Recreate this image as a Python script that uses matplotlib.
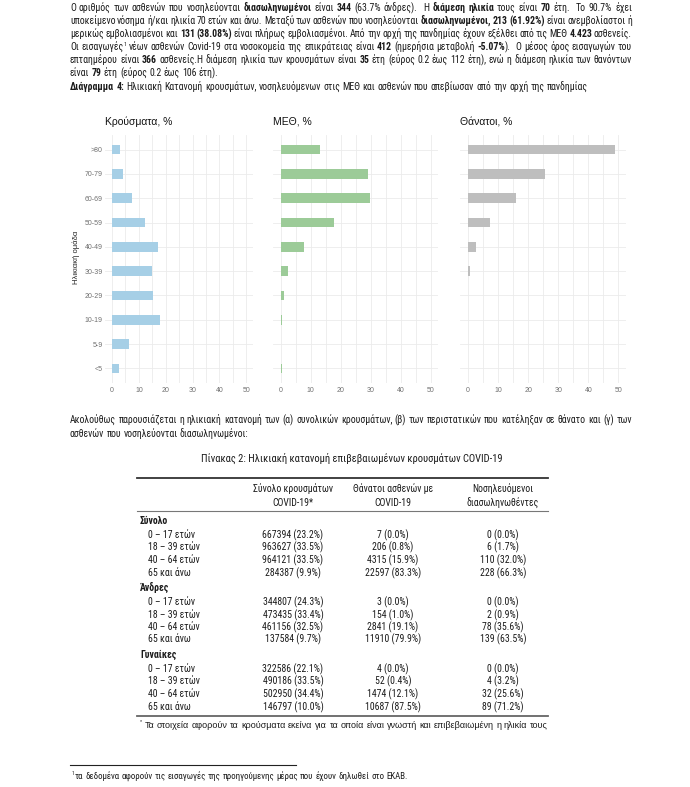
import math
import matplotlib
matplotlib.use('Agg')
import matplotlib.pyplot as plt
from matplotlib import font_manager as fm
from matplotlib.lines import Line2D
from matplotlib.ticker import MultipleLocator

# Chart data: age distribution (%)
age_groups = ['<5', '5-9', '10-19', '20-29', '30-39', '40-49', '50-59', '60-69', '70-79', '>80']
cases_pct_age = [2.7, 6.5, 18.0, 15.4, 15.0, 17.2, 12.4, 7.6, 4.2, 3.1]
icu_pct_age = [0.3, 0.1, 0.3, 1.1, 2.4, 7.8, 17.7, 29.7, 29.0, 13.1]
deaths_pct_age = [0.2, 0.0, 0.2, 0.2, 0.7, 2.6, 7.3, 15.9, 25.5, 48.7]
panel_titles = ['Κρούσματα, %', 'ΜΕΘ, %', 'Θάνατοι, %']
panel_colors = ['#a6cfe6', '#9ccb98', '#bebebe']

# Table data
groups = ['Σύνολο', 'Άνδρες', 'Γυναίκες']
age_rows = ['0 – 17 ετών', '18 – 39 ετών', '40 – 64 ετών', '65 και άνω']
col_headers = [('Σύνολο κρουσμάτων', 'COVID-19*'),
               ('Θάνατοι ασθενών με', 'COVID-19'),
               ('Νοσηλευόμενοι', 'διασωληνωθέντες')]
cases = [[667394, 963627, 964121, 284387],
         [344807, 473435, 461156, 137584],
         [322586, 490186, 502950, 146797]]
cases_pct = [[23.2, 33.5, 33.5, 9.9],
             [24.3, 33.4, 32.5, 9.7],
             [22.1, 33.5, 34.4, 10.0]]
deaths = [[7, 206, 4315, 22597],
          [3, 154, 2841, 11910],
          [4, 52, 1474, 10687]]
deaths_pct = [[0.0, 0.8, 15.9, 83.3],
              [0.0, 1.0, 19.1, 79.9],
              [0.0, 0.4, 12.1, 87.5]]
intubated = [[0, 6, 110, 228],
             [0, 2, 78, 139],
             [0, 4, 32, 89]]
intubated_pct = [[0.0, 1.7, 32.0, 66.3],
                 [0.0, 0.9, 35.6, 63.5],
                 [0.0, 3.2, 25.6, 71.2]]

W, H = 690, 787
CHART = ['Liberation Sans', 'DejaVu Sans']


def static_font(filename, family, weight):
    # prefer the static file, the variable font gives odd metrics
    for f in fm.fontManager.ttflist:
        if f.fname.endswith(filename):
            return fm.FontProperties(fname=f.fname)
    return fm.FontProperties(family=family, weight=weight)


BODY_N = static_font('RobotoCondensed-Regular.ttf', 'Roboto Condensed', 'normal')
BODY_B = static_font('RobotoCondensed-Bold.ttf', 'Roboto Condensed', 'bold')
CHART_N = fm.FontProperties(family=CHART)


def fp(base, size):
    p = base.copy()
    p.set_size(size)
    return p


fig = plt.figure(figsize=(W / 100, H / 100), dpi=100)
renderer = fig.canvas.get_renderer()


def fx(x):
    return x / W


def fy(y):
    return 1 - y / H


def put(x, y, s, prop, ha='left', color='#1a1a1a'):
    # place text with its baseline on pixel row y (counted from the top);
    # small words otherwise jump by a pixel or two depending on their glyphs
    w, h, d = renderer.get_text_width_height_descent(s, prop, ismath=False)
    b = round(y) + math.floor(h) - math.floor(h - d) - d
    fig.text(fx(x), fy(b), s, fontproperties=prop, ha=ha, va='baseline', color=color)
    return w


def text_line(y, parts, x0=70, x1=None, size=7.0, regular=BODY_N, bold=BODY_B, color='#1a1a1a'):
    # parts: (text, style) with style 'n', 'b' or 'sup'; words are split on spaces
    words = [[]]
    for s, st in parts:
        chunks = s.split(' ')
        for i, c in enumerate(chunks):
            if i > 0:
                words.append([])
            if c:
                words[-1].append((c, st))
    items = []
    for word in words:
        pieces = []
        for c, st in word:
            if st == 'sup':
                prop = fp(regular, size * 0.6)
            elif st == 'b':
                prop = fp(bold, size)
            else:
                prop = fp(regular, size)
            w = renderer.get_text_width_height_descent(c, prop, ismath=False)[0]
            pieces.append((c, prop, w, st))
        items.append(pieces)
    widths = [sum(p[2] for p in it) for it in items]
    p = fp(regular, size)
    space = (renderer.get_text_width_height_descent('x x', p, ismath=False)[0]
             - renderer.get_text_width_height_descent('xx', p, ismath=False)[0])
    if x1 is None or len(items) < 2:
        gap = space
    else:
        gap = (x1 - x0 - sum(widths)) / (len(items) - 1)
    x = x0
    for it in items:
        for c, prop, w, st in it:
            yy = y - size * 0.55 if st == 'sup' else y
            put(x, yy, c, prop, color=color)
            x += w
        x += gap


# ---- top paragraph ----
L, R = 70, 632
text_line(11, [('Ο αριθμός των ασθενών που νοσηλεύονται ', 'n'), ('διασωληνωμένοι', 'b'),
               (' είναι ', 'n'), ('344', 'b'), (' (63.7% άνδρες).  Η ', 'n'), ('διάμεση ηλικία', 'b'),
               (' τους είναι ', 'n'), ('70', 'b'), (' έτη.  Το 90.7% έχει', 'n')], L, R)
text_line(24, [('υποκείμενο νόσημα ή/και ηλικία 70 ετών και άνω. Μεταξύ των ασθενών που νοσηλεύονται ', 'n'),
               ('διασωληνωμένοι, 213 (61.92%)', 'b'), (' είναι ανεμβολίαστοι ή', 'n')], L, R)
text_line(37, [('μερικώς εμβολιασμένοι και ', 'n'), ('131 (38.08%)', 'b'),
               (' είναι πλήρως εμβολιασμένοι. Από την αρχή της πανδημίας έχουν εξέλθει από τις ΜΕΘ ', 'n'),
               ('4.423', 'b'), (' ασθενείς.', 'n')], L, R)
text_line(50, [('Οι εισαγωγές', 'n'), ('1', 'sup'), (' νέων ασθενών Covid-19 στα νοσοκομεία της επικράτειας είναι ', 'n'),
               ('412', 'b'), (' (ημερήσια μεταβολή ', 'n'), ('-5.07%', 'b'),
               (').  Ο μέσος όρος εισαγωγών του', 'n')], L, R)
text_line(63, [('επταημέρου είναι ', 'n'), ('366', 'b'),
               (' ασθενείς.Η διάμεση ηλικία των κρουσμάτων είναι ', 'n'), ('35', 'b'),
               (' έτη (εύρος 0.2 έως 112 έτη), ενώ η διάμεση ηλικία των θανόντων', 'n')], L, R)
text_line(76, [('είναι ', 'n'), ('79', 'b'), (' έτη (εύρος 0.2 έως 106 έτη).', 'n')], L)
text_line(90, [('Διάγραμμα 4:', 'b'),
               (' Ηλικιακή Κατανομή κρουσμάτων, νοσηλευόμενων στις ΜΕΘ και ασθενών που απεβίωσαν από την αρχή της πανδημίας', 'n')], L)

# ---- charts ----
panel_left = [105, 273, 460]
panel_width = [148, 165, 166]
top, bottom = 135, 383
series = [cases_pct_age, icu_pct_age, deaths_pct_age]
ypos = list(range(len(age_groups)))
for i in range(3):
    ax = fig.add_axes([fx(panel_left[i]), fy(bottom), panel_width[i] / W, (bottom - top) / H])
    ax.barh(ypos, series[i], height=0.4, color=panel_colors[i], zorder=3)
    ax.set_xlim(-2.6, 52.5)
    ax.set_ylim(-0.6, 9.6)
    ax.xaxis.set_major_locator(MultipleLocator(10))
    ax.xaxis.set_minor_locator(MultipleLocator(5))
    ax.set_yticks(ypos)
    ax.grid(True, which='both', axis='x', color='#ebebeb', linewidth=0.6, zorder=0)
    ax.grid(True, which='major', axis='y', color='#ebebeb', linewidth=0.6, zorder=0)
    for s in ax.spines.values():
        s.set_visible(False)
    ax.tick_params(which='both', length=0, labelsize=5, labelcolor='#707070', pad=3)
    ax.tick_params(axis='y', pad=1.5)
    for lab in ax.get_xticklabels():
        lab.set_family(CHART)
    if i == 0:
        ax.set_yticklabels(age_groups, family=CHART)
    else:
        ax.set_yticklabels([])
    put(panel_left[i], 125, panel_titles[i], fp(CHART_N, 7.5), color='#111111')
fig.text(fx(76), fy(257), 'Ηλικιακή ομάδα', rotation=90, fontproperties=fp(CHART_N, 5.5),
         ha='center', va='center', color='#222222')

# ---- text before table ----
text_line(423, [('Ακολούθως παρουσιάζεται η ηλικιακή κατανομή των (α) συνολικών κρουσμάτων, (β) των περιστατικών που κατέληξαν σε θάνατο και (γ) των', 'n')], L, R)
text_line(437, [('ασθενών που νοσηλεύονται διασωληνωμένοι:', 'n')], L)
put(352, 462, 'Πίνακας 2: Ηλικιακή κατανομή επιβεβαιωμένων κρουσμάτων COVID-19', fp(BODY_N, 7.6), ha='center')

# ---- table ----
tl, tr = 137, 548
fig.add_artist(Line2D([fx(tl), fx(tr)], [fy(478)] * 2, transform=fig.transFigure, color='#333333', lw=1.3))
fig.add_artist(Line2D([fx(tl), fx(tr)], [fy(511)] * 2, transform=fig.transFigure, color='#777777', lw=0.8))
fig.add_artist(Line2D([fx(tl), fx(tr)], [fy(716)] * 2, transform=fig.transFigure, color='#666666', lw=1.3))
col_x = [293, 393, 503]
TS = 7.0
cell_font = fp(BODY_N, TS)
for cx, (h1, h2) in zip(col_x, col_headers):
    put(cx, 492, h1, cell_font, ha='center')
    put(cx, 506, h2, cell_font, ha='center')

y = 521
for g in range(len(groups)):
    put(140, y + 3, groups[g], fp(BODY_B, TS))
    y += 14
    for r in range(len(age_rows)):
        put(148, y + 3, age_rows[r], cell_font)
        cells = [f'{cases[g][r]} ({cases_pct[g][r]:.1f}%)',
                 f'{deaths[g][r]} ({deaths_pct[g][r]:.1f}%)',
                 f'{intubated[g][r]} ({intubated_pct[g][r]:.1f}%)']
        for cx, c in zip(col_x, cells):
            put(cx, y + 3, c, cell_font, ha='center')
        y += 12.5
    y += 3

text_line(728, [('*', 'sup'), (' Τα στοιχεία αφορούν τα κρούσματα εκείνα για τα οποία είναι γνωστή και επιβεβαιωμένη η ηλικία τους', 'n')],
          140, size=6.5, regular=CHART_N, bold=CHART_N)

# ---- page footnote ----
fig.add_artist(Line2D([fx(70), fx(296)], [fy(765)] * 2, transform=fig.transFigure, color='#222222', lw=0.8))
text_line(779, [('1', 'sup'), ('τα δεδομένα αφορούν τις εισαγωγές της προηγούμενης μέρας που έχουν δηλωθεί στο ΕΚΑΒ.', 'n')],
          72, size=6.4)

fig.savefig('out.png', dpi=100, facecolor='white')
